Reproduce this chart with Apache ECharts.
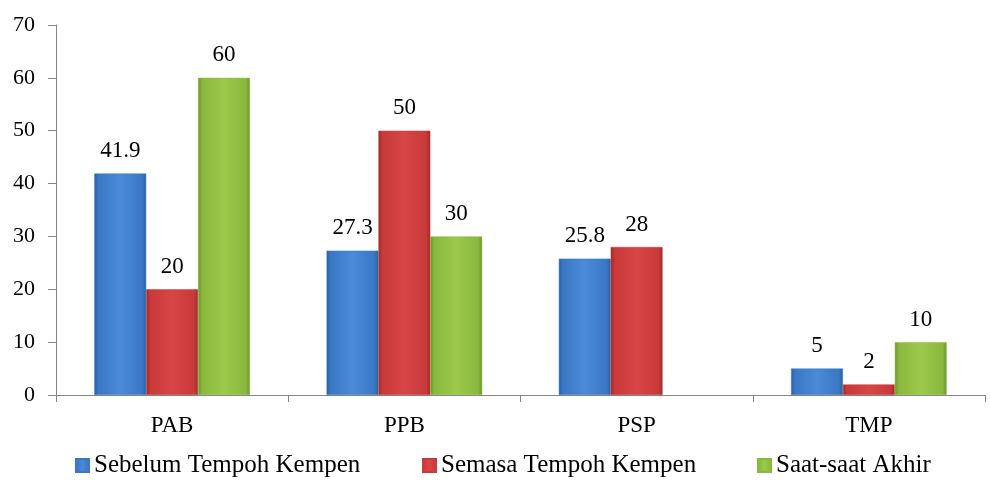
<!DOCTYPE html>
<html>
<head>
<meta charset="utf-8">
<script src="https://cdn.jsdelivr.net/npm/echarts@6/dist/echarts.min.js"></script>
<style>html,body{margin:0;padding:0;background:#fff}#c{width:990px;height:484px}</style>
</head>
<body>
<div id="c"></div>
<script>
const categories = ['PAB', 'PPB', 'PSP', 'TMP'];
const seriesNames = ['Sebelum Tempoh Kempen', 'Semasa Tempoh Kempen', 'Saat-saat Akhir'];
const sebelum = [41.9, 27.3, 25.8, 5];
const semasa = [20, 50, 28, 2];
const saat = [60, 30, null, 10];
const yTicks = [0, 10, 20, 30, 40, 50, 60, 70];

const chart = echarts.init(document.getElementById('c'));
function grad(light, mid, dark) {
  return new echarts.graphic.LinearGradient(0, 0, 1, 0, [
    {offset: 0, color: dark},
    {offset: 0.08, color: mid},
    {offset: 0.5, color: light},
    {offset: 0.92, color: mid},
    {offset: 1, color: dark}
  ]);
}
const colors = [
  grad('#4a8ad6', '#3a78c6', '#2b5f9e'),
  grad('#d84545', '#c93a3a', '#9e2a2a'),
  grad('#9cc94a', '#8ab83e', '#6c9330')
];
const flat = ['#3a78c6', '#c93a3a', '#8ab83e'];
const font = "'Liberation Serif', serif";
const dataSets = [sebelum, semasa, saat];
const legendLefts = [70, 417, 752];
chart.setOption({
  animation: false,
  textStyle: {fontFamily: font},
  grid: {left: 56, right: 5, top: 25, bottom: 89},
  legend: seriesNames.map((n, i) => ({
    data: [n], left: legendLefts[i], top: 448, icon: 'rect', itemWidth: 13, itemHeight: 13, itemGap: 0,
    textStyle: {fontFamily: font, fontSize: 25, color: '#000'}
  })),
  xAxis: {
    type: 'category', data: categories,
    axisLine: {lineStyle: {color: '#868686'}},
    axisTick: {show: true, length: 7, lineStyle: {color: '#868686'}},
    axisLabel: {fontFamily: font, fontSize: 23, color: '#000', margin: 19}
  },
  yAxis: {
    type: 'value', min: yTicks[0], max: yTicks[yTicks.length - 1], interval: 10,
    splitLine: {show: false},
    axisLine: {show: true, lineStyle: {color: '#868686'}},
    axisTick: {show: true, length: 8, lineStyle: {color: '#868686'}},
    axisLabel: {fontFamily: font, fontSize: 22, color: '#000', margin: 21}
  },
  series: seriesNames.map((n, i) => ({
    name: n, type: 'bar', data: dataSets[i], barGap: '0%', barCategoryGap: '33%',
    itemStyle: {color: colors[i], borderColor: flat[i], borderWidth: 0.5},
    label: {show: true, position: 'top', distance: 11, fontFamily: font, fontSize: 23, color: '#000'}
  }))
});
</script>
</body>
</html>
